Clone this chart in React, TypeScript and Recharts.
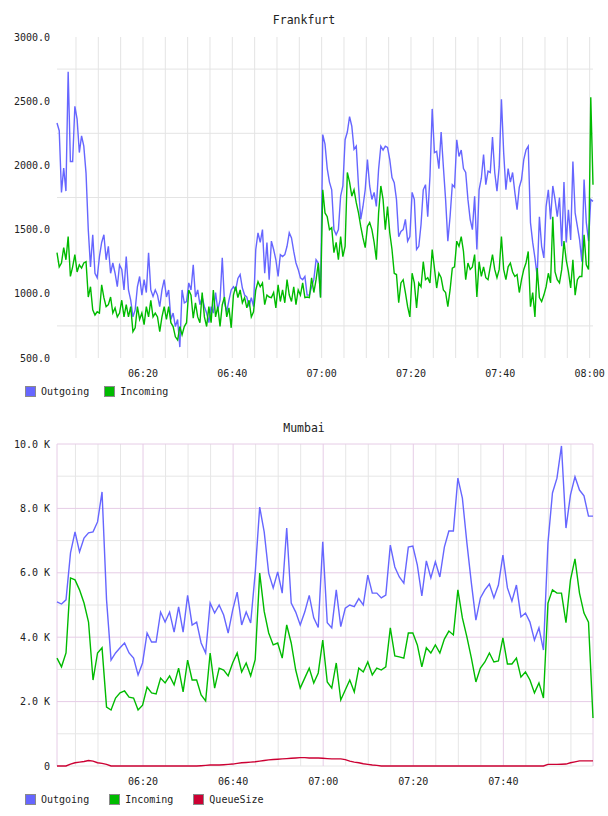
import React from 'react';
import { LineChart, Line, XAxis, YAxis, CartesianGrid } from 'recharts';

// x values are minutes after 06:00
const FRA_START = 0.75;
const FRA_STEP = 0.5;

const fraOutgoing = [
  2330, 2270, 1790, 1980, 1800, 2730, 2030, 2030, 2460, 2360,
  2100, 2230, 2150, 1940, 1500, 1210, 1460, 1160, 1125, 1290,
  1400, 1460, 1265, 1370, 1160, 1240, 1160, 1055, 1225, 1190,
  1030, 1290, 1030, 950, 820, 875, 1055, 1135, 990, 1110,
  1010, 1320, 1030, 980, 1030, 990, 900, 1030, 1110, 975,
  1030, 800, 850, 745, 800, 585, 1030, 930, 940, 1085,
  1030, 1225, 975, 1030, 915, 975, 900, 850, 775, 900,
  850, 1010, 875, 950, 1280, 930, 860, 950, 1030, 1055,
  1030, 1120, 1150, 1045, 990, 975, 900, 970, 900, 1345,
  1475, 1400, 1500, 1160, 1400, 1110, 1410, 1345, 1265, 1135,
  1305, 1290, 1305, 1370, 1475, 1435, 1330, 1240, 1190, 1125,
  1110, 1135, 990, 990, 1055, 1110, 1265, 1240, 975, 2240,
  2165, 1975, 1870, 1810, 1500, 1460, 1500, 1760, 1840, 2200,
  2260, 2380, 2305, 2125, 2150, 1840, 1580, 1680, 1810, 2045,
  1840, 1735, 1790, 1680, 1970, 2150, 2120, 2150, 2140, 2045,
  1905, 1865, 1735, 1445, 1485, 1500, 1580, 1410, 1445, 1790,
  1735, 1345, 1370, 1540, 1810, 1850, 1600, 1915, 2440, 2100,
  2110, 1975, 2260, 1990, 1735, 1410, 1600, 1850, 1830, 2200,
  2070, 2120, 1975, 1945, 1735, 1580, 1500, 1760, 1345, 1810,
  1900, 2085, 1850, 1955, 1945, 2220, 1945, 1800, 1990, 2515,
  2100, 1810, 1975, 1870, 1945, 1790, 1655, 1830, 1890, 2045,
  2120, 2150, 1555, 1400, 1280, 1135, 1600, 1370, 1280, 1680,
  1810, 1580, 1840, 1735, 1600, 1750, 1370, 1870, 1400, 1655,
  1420, 2030, 1630, 1525, 1420, 1250, 1890, 1555, 1410, 1735,
  1720,
];

const fraIncoming = [
  1320, 1210, 1240, 1360, 1265, 1445, 1135, 1210, 1305, 1170,
  1225, 1200, 1240, 1250, 975, 1055, 875, 835, 860, 850,
  1070, 970, 900, 915, 975, 850, 890, 820, 850, 950,
  820, 915, 820, 900, 705, 735, 900, 800, 850, 760,
  900, 820, 950, 820, 850, 820, 705, 820, 900, 800,
  900, 775, 745, 665, 640, 745, 680, 745, 775, 1030,
  990, 810, 930, 820, 775, 1010, 820, 745, 900, 775,
  1030, 820, 900, 745, 915, 975, 820, 890, 735, 990,
  1055, 970, 1030, 930, 970, 890, 950, 820, 860, 1030,
  1095, 1055, 1085, 915, 990, 975, 970, 1010, 890, 1070,
  940, 1030, 930, 1110, 990, 940, 1055, 915, 1030, 990,
  1085, 970, 975, 970, 1125, 1010, 1110, 1240, 970, 1810,
  1630, 1600, 1500, 1515, 1320, 1400, 1265, 1445, 1290, 1370,
  1945, 1870, 1760, 1810, 1710, 1630, 1525, 1435, 1360, 1525,
  1555, 1500, 1400, 1265, 1630, 1840, 1735, 1500, 1680, 1475,
  1345, 1160, 1150, 930, 1085, 1110, 1010, 900, 820, 1160,
  1085, 890, 1085, 1055, 1250, 1110, 1125, 1085, 1345, 1200,
  1045, 1160, 1125, 1030, 1010, 900, 1030, 1200, 1210, 1410,
  1370, 1445, 1330, 1110, 1240, 1190, 1210, 1305, 975, 1250,
  1135, 1210, 1125, 1110, 1210, 1305, 1190, 1125, 1190, 1445,
  1190, 1110, 1210, 1240, 1170, 1135, 1150, 1010, 1110, 1190,
  1240, 1330, 900, 1010, 820, 1200, 970, 940, 990, 1055,
  1160, 1085, 1600, 1170, 1110, 1085, 1190, 1410, 1265, 1170,
  1045, 1265, 990, 1110, 1135, 1135, 1460, 1225, 1190, 2530,
  1850,
];

const BOM_START = 0.9;
const BOM_STEP = 1;

const bomOutgoing = [
  5095, 5030, 5160, 6620, 7270, 6650, 7080, 7240, 7270, 7580,
  8510, 5160, 3290, 3510, 3670, 3820, 3510, 3350, 2830, 3200,
  4130, 3850, 3850, 4780, 4470, 4780, 4160, 4940, 4160, 5300,
  4380, 4470, 3820, 3510, 5060, 4750, 5000, 4690, 4130, 4840,
  5400, 4380, 4780, 4440, 5990, 8040, 7270, 5990, 5530, 6030,
  5370, 7390, 5060, 4780, 4380, 4780, 5300, 4600, 4300, 6960,
  4450, 4290, 5470, 4330, 4900, 5000, 4950, 5200, 5000, 5930,
  5370, 5370, 5220, 5310, 6860, 6180, 5870, 5680, 6800, 6830,
  6240, 5280, 6370, 5840, 6340, 5870, 6800, 7300, 7300, 8940,
  8320, 6930, 5680, 4530, 5220, 5470, 5650, 5220, 5620, 6550,
  5530, 5120, 5620, 4630, 4750, 4470, 3910, 4290, 3600, 6930,
  8480, 8940, 9940, 7390, 8420, 8980, 8570, 8390, 7760, 7760,
];

const bomIncoming = [
  3350, 3080, 3510, 5840, 5780, 5470, 5060, 4470, 2670, 3510,
  3670, 1830, 1740, 2110, 2270, 2330, 2140, 2110, 1740, 1890,
  2450, 2270, 2240, 2730, 2580, 2800, 2520, 3040, 2300, 3290,
  2670, 2670, 2210, 2020, 3510, 2420, 3040, 2980, 2800, 3200,
  3510, 2920, 3200, 2800, 3300, 5990, 4800, 4130, 3760, 3820,
  3350, 4380, 3820, 2980, 2420, 2730, 3040, 2580, 2890, 3910,
  2610, 2420, 3200, 2050, 2360, 2670, 2300, 3040, 2920, 3230,
  2830, 3040, 2980, 3080, 4290, 3420, 3390, 3350, 4130, 4130,
  3760, 3080, 3670, 3510, 3760, 3510, 3940, 4190, 4070, 5470,
  4600, 4010, 3350, 2610, 3040, 3230, 3510, 3230, 3260, 3980,
  3170, 3170, 3350, 2760, 2920, 2670, 2270, 2580, 2110, 5060,
  5470, 5370, 5370, 4450, 5780, 6430, 5370, 4750, 4470, 1490,
];

const bomQueue = [
  0, 0, 0, 60, 100, 120, 140, 170, 150, 100,
  80, 50, 0, 0, 0, 0, 0, 0, 0, 0,
  0, 0, 0, 0, 0, 0, 0, 0, 0, 0,
  0, 0, 10, 20, 30, 30, 30, 40, 50, 60,
  80, 100, 110, 120, 130, 150, 170, 190, 200, 210,
  220, 230, 240, 250, 260, 260, 250, 250, 250, 240,
  230, 220, 220, 220, 200, 150, 120, 100, 70, 50,
  30, 20, 0, 0, 0, 0, 0, 0, 0, 0,
  0, 0, 0, 0, 0, 0, 0, 0, 0, 0,
  0, 0, 0, 0, 0, 0, 0, 0, 0, 0,
  0, 0, 0, 0, 0, 0, 0, 0, 0, 50,
  50, 50, 55, 60, 100, 130, 160, 160, 160, 160,
];

const fraYTicks = [500, 1000, 1500, 2000, 2500, 3000];
const fraGridY = [750, 1250, 1750, 2250, 2750];
const bomYTicks = [0, 2000, 4000, 6000, 8000, 10000];
const bomGridMinor = [0, 1000, 3000, 5000, 7000, 9000];
const fraTimeTicks = [20, 40, 60, 80, 100, 120];
const bomTimeTicks = [20, 40, 60, 80, 100];
const fiveMinMarks = [
  5, 10, 15, 20, 25, 30, 35, 40, 45, 50, 55, 60,
  65, 70, 75, 80, 85, 90, 95, 100, 105, 110, 115, 120,
];

const BLUE = '#6666ff';
const GREEN = '#00bb00';
const RED = '#cc0033';
const FONT = '"DejaVu Sans Mono", monospace';

const fraData = fraOutgoing.map((v, i) => ({
  t: FRA_START + i * FRA_STEP,
  out: v,
  inc: fraIncoming[i],
}));
const FRA_END = FRA_START + (fraOutgoing.length - 1) * FRA_STEP;

const bomData = bomOutgoing.map((v, i) => ({
  t: BOM_START + i * BOM_STEP,
  out: v,
  inc: bomIncoming[i],
  queue: bomQueue[i],
}));
const BOM_END = BOM_START + (bomOutgoing.length - 1) * BOM_STEP;

const fmtTime = (t: number) => {
  const h = 6 + Math.floor(t / 60);
  const m = Math.round(t % 60);
  return `${String(h).padStart(2, '0')}:${String(m).padStart(2, '0')}`;
};
const fmtK = (v: number) => (v === 0 ? '0' : `${(v / 1000).toFixed(1)} K`);

const tickStyle = { fontFamily: FONT, fontSize: 10, fill: '#222' };

const LegendRow = ({ items, gap }: { items: { name: string; color: string }[]; gap: number }) => (
  <div style={{ display: 'flex', alignItems: 'center', fontFamily: FONT, fontSize: 10, color: '#222' }}>
    {items.map((it) => (
      <div key={it.name} style={{ display: 'flex', alignItems: 'center', marginRight: gap }}>
        <span
          style={{
            display: 'inline-block',
            width: 9,
            height: 9,
            background: it.color,
            border: '1px solid #8a8a8a',
            marginRight: 5,
          }}
        />
        <span>{it.name}</span>
      </div>
    ))}
  </div>
);

const Title = ({ text, top }: { text: string; top: number }) => (
  <div
    style={{
      position: 'absolute',
      top,
      left: 0,
      width: 608,
      textAlign: 'center',
      fontFamily: FONT,
      fontSize: 11.5,
      lineHeight: '12px',
      color: '#222',
    }}
  >
    {text}
  </div>
);

export default function App() {
  const nonLabelMarks = fiveMinMarks.filter((m) => m % 20 !== 0);
  return (
    <div style={{ position: 'absolute', left: 0, top: 0, width: 608, height: 816, background: '#fff' }}>
      <Title text="Frankfurt" top={14} />
      <div style={{ position: 'absolute', left: 0, top: 0 }}>
        <LineChart width={608} height={400} data={fraData} margin={{ top: 37, right: 15, bottom: 12, left: 0 }}>
          <CartesianGrid stroke="#e4e4e4" horizontalValues={fraGridY} verticalValues={fiveMinMarks} />
          <XAxis
            dataKey="t"
            type="number"
            domain={[FRA_START, FRA_END]}
            ticks={fraTimeTicks}
            tickFormatter={fmtTime}
            interval={0}
            axisLine={false}
            tickLine={false}
            tickSize={6}
            tickMargin={6}
            height={30}
            tick={tickStyle}
          />
          <YAxis
            type="number"
            domain={[500, 3000]}
            ticks={fraYTicks}
            tickFormatter={(v: number) => v.toFixed(1)}
            interval={0}
            axisLine={false}
            tickLine={false}
            tickSize={5}
            tickMargin={2}
            width={57}
            tick={tickStyle}
          />
          <Line dataKey="out" stroke={BLUE} strokeWidth={1.4} dot={false} isAnimationActive={false} />
          <Line dataKey="inc" stroke={GREEN} strokeWidth={1.4} dot={false} isAnimationActive={false} />
        </LineChart>
      </div>
      <div style={{ position: 'absolute', left: 25, top: 386 }}>
        <LegendRow
          gap={15}
          items={[
            { name: 'Outgoing', color: BLUE },
            { name: 'Incoming', color: GREEN },
          ]}
        />
      </div>

      <Title text="Mumbai" top={422} />
      <div style={{ position: 'absolute', left: 0, top: 410 }}>
        <LineChart width={608} height={398} data={bomData} margin={{ top: 34, right: 15, bottom: 12, left: 0 }}>
          <CartesianGrid stroke="#e6e6e6" horizontalValues={bomGridMinor} verticalValues={nonLabelMarks} />
          <CartesianGrid
            stroke="#e6cce6"
            horizontalValues={bomYTicks.filter((v) => v !== 0)}
            verticalValues={[BOM_START, ...bomTimeTicks, BOM_END]}
          />
          <XAxis
            dataKey="t"
            type="number"
            domain={[BOM_START, BOM_END]}
            ticks={bomTimeTicks}
            tickFormatter={fmtTime}
            interval={0}
            axisLine={false}
            tickLine={false}
            tickSize={6}
            tickMargin={6}
            height={30}
            tick={tickStyle}
          />
          <YAxis
            type="number"
            domain={[0, 10000]}
            ticks={bomYTicks}
            tickFormatter={fmtK}
            interval={0}
            axisLine={false}
            tickLine={false}
            tickSize={5}
            tickMargin={2}
            width={57}
            tick={tickStyle}
          />
          <Line dataKey="out" stroke={BLUE} strokeWidth={1.4} dot={false} isAnimationActive={false} />
          <Line dataKey="inc" stroke={GREEN} strokeWidth={1.4} dot={false} isAnimationActive={false} />
          <Line dataKey="queue" stroke={RED} strokeWidth={1.4} dot={false} isAnimationActive={false} />
        </LineChart>
      </div>
      <div style={{ position: 'absolute', left: 25, top: 794 }}>
        <LegendRow
          gap={20}
          items={[
            { name: 'Outgoing', color: BLUE },
            { name: 'Incoming', color: GREEN },
            { name: 'QueueSize', color: RED },
          ]}
        />
      </div>
    </div>
  );
}
